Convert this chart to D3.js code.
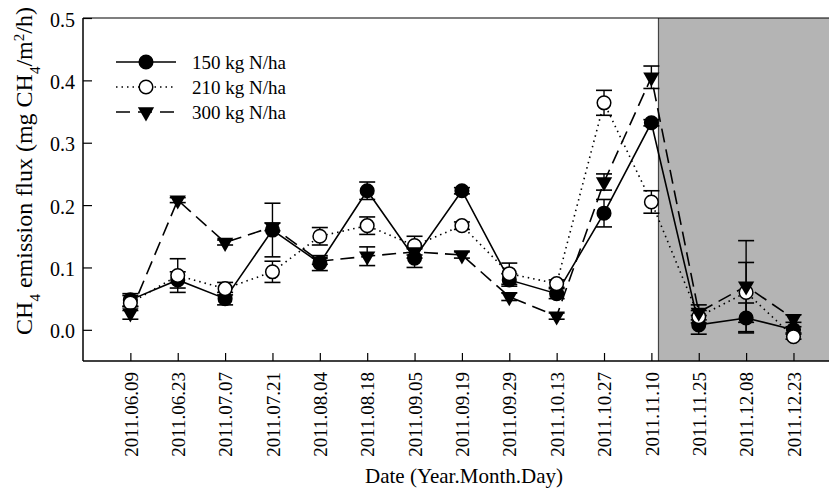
<!DOCTYPE html>
<html><head><meta charset="utf-8">
<script src="https://cdn.jsdelivr.net/npm/d3@7"></script>
<style>body{margin:0;background:#fff}svg{display:block}text{font-family:"Liberation Serif","Times New Roman",serif;fill:#000}</style>
</head><body><div id="chart"></div>
<script>
const dates = ["2011.06.09","2011.06.23","2011.07.07","2011.07.21","2011.08.04","2011.08.18","2011.09.05","2011.09.19","2011.09.29","2011.10.13","2011.10.27","2011.11.10","2011.11.25","2011.12.08","2011.12.23"];
const seriesNames = ["150 kg N/ha","210 kg N/ha","300 kg N/ha"];
const n150 = [0.048,0.080,0.050,0.160,0.107,0.223,0.115,0.223,0.080,0.058,0.187,0.332,0.008,0.019,0.000];
const n150err = [0.010,0.013,0.010,0.043,0.012,0.014,0.015,0.005,0.010,0.008,0.022,0.005,0.015,0.024,0.005];
const n210 = [0.043,0.087,0.066,0.093,0.150,0.167,0.135,0.167,0.090,0.074,0.364,0.205,0.021,0.060,-0.011];
const n210err = [0.012,0.027,0.010,0.017,0.014,0.014,0.015,0.006,0.017,0.006,0.020,0.018,0.010,0.048,0.004];
const n300 = [0.027,0.208,0.140,0.165,0.110,0.118,0.125,0.120,0.053,0.022,0.237,0.405,0.028,0.070,0.018];
const n300err = [0.010,0.004,0.004,0.006,0.005,0.015,0.010,0.005,0.006,0.005,0.013,0.018,0.012,0.073,0.006];
const yTicks = [0.0,0.1,0.2,0.3,0.4,0.5];
const shadeStart = 11.15;

const W=829,H=488, L=83, R=829, T=18, B=361;
const svg=d3.select("#chart").append("svg").attr("width",W).attr("height",H);
const x=d3.scaleLinear().domain([-1,14.75]).range([L,R]);
const y=d3.scaleLinear().domain([-0.05,0.5]).range([B,T]);

// shading
svg.append("rect").attr("x",x(shadeStart)).attr("y",T).attr("width",R-x(shadeStart)).attr("height",B-T).attr("fill","#b4b4b4");
svg.append("line").attr("x1",x(shadeStart)).attr("x2",x(shadeStart)).attr("y1",T).attr("y2",B).attr("stroke","#444").attr("stroke-width",1.2);

// axes
const ya=svg.append("g").attr("transform",`translate(${L},0)`)
  .call(d3.axisLeft(y).tickValues(yTicks).tickFormat(d3.format(".1f")).tickSizeInner(-9).tickSizeOuter(0).tickPadding(8));
ya.select(".domain").remove();
ya.selectAll("text").style("font-size","20px").attr("dy","0.4em");
ya.selectAll("line").attr("stroke-width",1.2);
const xa=svg.append("g").attr("transform",`translate(0,${B})`)
  .call(d3.axisBottom(x).tickValues(d3.range(dates.length)).tickFormat(i=>dates[i]).tickSizeInner(-8).tickSizeOuter(0));
xa.select(".domain").remove();
xa.selectAll("line").attr("stroke-width",1.2);
xa.selectAll("text").style("font-size","19px")
  .attr("transform","rotate(-90)").attr("text-anchor","end").attr("x",-11).attr("y",0).attr("dy","0.35em");
svg.append("line").attr("x1",L).attr("x2",L).attr("y1",T).attr("y2",B).attr("stroke","#000").attr("stroke-width",1.5);
svg.append("line").attr("x1",L).attr("x2",R).attr("y1",B).attr("y2",B).attr("stroke","#000").attr("stroke-width",1.5);
svg.append("line").attr("x1",L).attr("x2",R).attr("y1",T).attr("y2",T).attr("stroke","#000").attr("stroke-width",1.2);

// axis titles
svg.append("text").attr("x",464).attr("y",483).attr("text-anchor","middle").style("font-size","21px").text("Date (Year.Month.Day)");
const yl=svg.append("text").attr("transform","translate(32,171) rotate(-90)").attr("text-anchor","middle").style("font-size","24px");
yl.append("tspan").text("CH");
yl.append("tspan").attr("baseline-shift","sub").style("font-size","15px").text("4");
yl.append("tspan").text(" emission flux (mg CH");
yl.append("tspan").attr("baseline-shift","sub").style("font-size","15px").text("4");
yl.append("tspan").text("/m");
yl.append("tspan").attr("baseline-shift","super").style("font-size","15px").text("2");
yl.append("tspan").text("/h)");

const series=[
  {name:seriesNames[0],v:n150,e:n150err,dash:null,marker:"filled"},
  {name:seriesNames[1],v:n210,e:n210err,dash:"1.5,4",marker:"open"},
  {name:seriesNames[2],v:n300,e:n300err,dash:"14,7",marker:"tri"}
];
const line=d3.line().x((d,i)=>x(i)).y(d=>y(d));
series.forEach(s=>{
  svg.append("path").attr("d",line(s.v)).attr("fill","none").attr("stroke","#000").attr("stroke-width",1.6)
    .attr("stroke-dasharray",s.dash);
});
function drawMarker(g,type,cx,cy){
  if(type==="tri"){
    g.append("path").attr("d",d3.symbol(d3.symbolTriangle,115)()).attr("transform",`translate(${cx},${cy}) rotate(180)`).attr("fill","#000");
  } else {
    g.append("circle").attr("cx",cx).attr("cy",cy).attr("r",6.8).attr("fill",type==="filled"?"#000":"#fff").attr("stroke","#000").attr("stroke-width",1.5);
  }
}
series.forEach(s=>{
  const g=svg.append("g");
  s.v.forEach((v,i)=>{
    const cx=x(i), y1=y(v+s.e[i]), y2=y(v-s.e[i]);
    g.append("line").attr("x1",cx).attr("x2",cx).attr("y1",y1).attr("y2",y2).attr("stroke","#000").attr("stroke-width",1.4);
    [y1,y2].forEach(yy=>g.append("line").attr("x1",cx-8).attr("x2",cx+8).attr("y1",yy).attr("y2",yy).attr("stroke","#000").attr("stroke-width",1.6));
  });
});
series.forEach(s=>{
  const g=svg.append("g");
  s.v.forEach((v,i)=>drawMarker(g,s.marker,x(i),y(v)));
});

// legend
const lg=svg.append("g");
series.forEach((s,k)=>{
  const yy=62+k*25;
  lg.append("line").attr("x1",116).attr("x2",176).attr("y1",yy).attr("y2",yy).attr("stroke","#000").attr("stroke-width",1.6).attr("stroke-dasharray",s.dash?(k===2?"14,8":"1.5,4"):null);
  drawMarker(lg,s.marker,146,yy);
  lg.append("text").attr("x",192).attr("y",yy).attr("dy","0.35em").style("font-size","19px").text(s.name);
});
</script></body></html>
